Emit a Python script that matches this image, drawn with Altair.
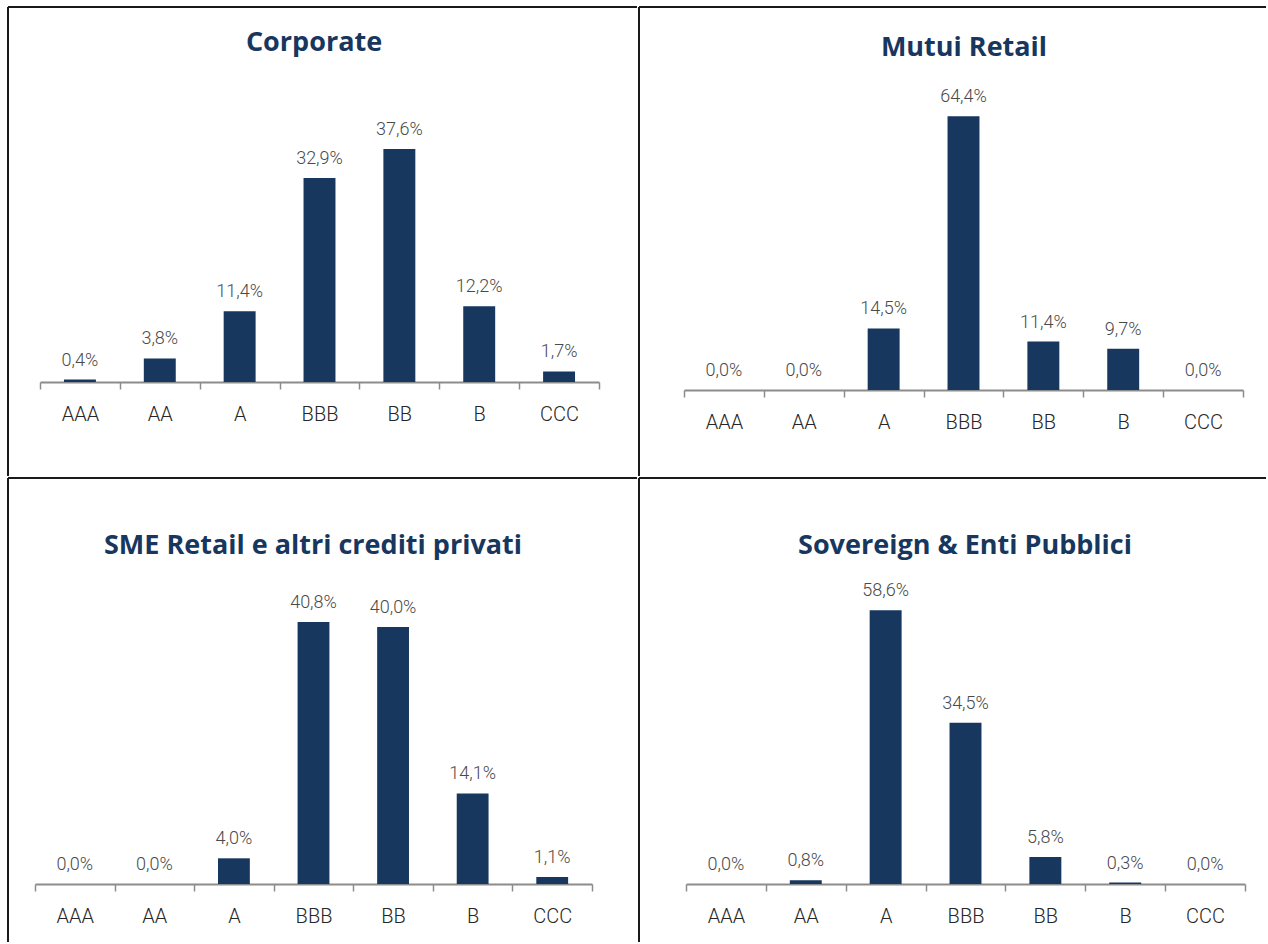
import altair as alt
import pandas as pd

categories = ["AAA", "AA", "A", "BBB", "BB", "B", "CCC"]
titles = ["Corporate", "Mutui Retail", "SME Retail e altri crediti privati", "Sovereign & Enti Pubblici"]
corporate = [0.4, 3.8, 11.4, 32.9, 37.6, 12.2, 1.7]
mutui = [0.0, 0.0, 14.5, 64.4, 11.4, 9.7, 0.0]
sme = [0.0, 0.0, 4.0, 40.8, 40.0, 14.1, 1.1]
sovereign = [0.0, 0.8, 58.6, 34.5, 5.8, 0.3, 0.0]

NAVY = "#17375E"
GRID = "#8c8c8c"


def fmt(v):
    return f"{v:.1f}".replace(".", ",") + "%"


def panel(title, values, w, h, xr, base, ymax, ytop, tx, ty):
    df = pd.DataFrame({"rating": categories, "value": values,
                       "label": [fmt(v) for v in values]})
    x = alt.X("rating:N", sort=categories,
              scale=alt.Scale(domain=categories, range=xr, paddingInner=0, paddingOuter=0),
              axis=alt.Axis(title=None, orient="bottom", offset=base - h, labelAngle=0,
                            labelFont="Roboto", labelFontSize=20, labelFontWeight=300,
                            labelColor="#262626",
                            labelPadding=15, tickBand="extent", tickSize=7,
                            tickColor=GRID, tickWidth=1.5, domainColor=GRID,
                            domainWidth=2, grid=False))
    y = alt.Y("value:Q", scale=alt.Scale(domain=[0, ymax], range=[base, ytop], nice=False),
              axis=None)
    bars = alt.Chart(df).mark_bar(width=alt.RelativeBandSize(0.4), color=NAVY).encode(x=x, y=y)
    labels = alt.Chart(df).mark_text(dy=-14, baseline="alphabetic", font="Roboto",
                                     fontSize=18, fontWeight=300,
                                     color="#4a4a4a").encode(x=x, y=y, text="label:N")
    ttl = alt.Chart(pd.DataFrame({"t": [title]})).mark_text(
        font="Open Sans", fontWeight="bold", fontSize=27, color=NAVY,
        baseline="alphabetic", align="center").encode(
        x=alt.value(tx), y=alt.value(ty), text="t:N")
    one = pd.DataFrame({"k": [0]})
    top = alt.Chart(one).mark_rule(color="#1a1a1a", strokeWidth=2).encode(
        x=alt.value(1), x2=alt.value(w - 1), y=alt.value(1))
    left = alt.Chart(one).mark_rule(color="#1a1a1a", strokeWidth=2).encode(
        x=alt.value(1), y=alt.value(1), y2=alt.value(h - 1))
    return alt.layer(bars, labels, ttl, top, left).properties(width=w, height=h)


p1 = panel(titles[0], corporate, 631, 471, [33, 592], 376, 40, 128, 307, 45)
p2 = panel(titles[1], mutui, 629, 471, [46, 605], 384, 70, 86.5, 326, 50)
p3 = panel(titles[2], sme, 631, 466, [28, 585], 407, 45, 118, 306, 77)
p4 = panel(titles[3], sovereign, 629, 466, [48, 607], 407, 70, 80, 327, 77)

chart = alt.vconcat(
    alt.hconcat(p1, p2, spacing=0),
    alt.hconcat(p3, p4, spacing=0),
    spacing=0,
).properties(
    padding={"left": 7, "top": 6, "right": 0, "bottom": 0},
    background="white",
).configure_view(strokeWidth=0).configure_concat(spacing=0)

chart.save("out.html", embed_options={"renderer": "svg", "actions": False})
